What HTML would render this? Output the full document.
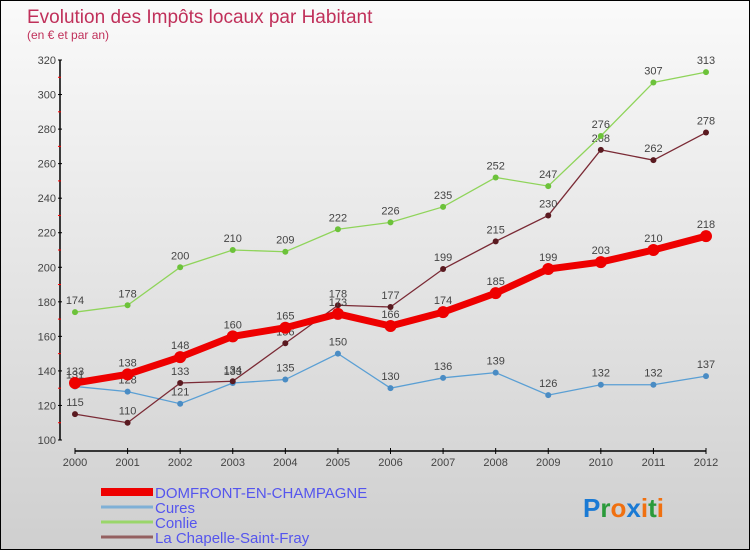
<!DOCTYPE html>
<html><head><meta charset="utf-8"><style>
html,body{margin:0;padding:0}
body{width:750px;height:550px;overflow:hidden;font-family:"Liberation Sans",sans-serif}
#wrap{position:relative;width:748px;height:548px;border:1px solid #000;background:linear-gradient(#fafafa,#cfcfcf)}
</style></head><body>
<div id="wrap">
<svg id="chart" width="748" height="548" xmlns="http://www.w3.org/2000/svg">
<text x="26" y="22" font-size="19" fill="#c0305a">Evolution des Impôts locaux par Habitant</text>
<text x="26" y="38" font-size="12" fill="#c0305a">(en € et par an)</text>
</svg>
</div>
<script>
const years=[2000,2001,2002,2003,2004,2005,2006,2007,2008,2009,2010,2011,2012];
const domfront=[133,138,148,160,165,173,166,174,185,199,203,210,218];
const cures=[131,128,121,133,135,150,130,136,139,126,132,132,137];
const conlie=[174,178,200,210,209,222,226,235,252,247,276,307,313];
const chapelle=[115,110,133,134,156,178,177,199,215,230,268,262,278];
const yTicks=[100,120,140,160,180,200,220,240,260,280,300,320];
const seriesNames=["DOMFRONT-EN-CHAMPAGNE","Cures","Conlie","La Chapelle-Saint-Fray"];
const svg=document.getElementById('chart');
const NS='http://www.w3.org/2000/svg';
const X=i=>74+i*(705-74)/(years.length-1);
const Y=v=>439-(v-100)*(439-59)/220;
function mk(t,a,p){const e=document.createElementNS(NS,t);for(const k in a)e.setAttribute(k,a[k]);(p||svg).appendChild(e);return e;}
// axes
const yax=mk('line',{x1:59,y1:59,x2:59,y2:439,stroke:'#000','stroke-width':1.5});


yTicks.forEach((t,i)=>{
 mk('line',{x1:57,x2:61,y1:Y(t),y2:Y(t),stroke:'#000'});
 if(i<yTicks.length-1) mk('line',{x1:57,x2:60,y1:Y(t+10),y2:Y(t+10),stroke:'#f00'});
 const tx=mk('text',{x:55,y:Y(t)+4,'font-size':11,'text-anchor':'end',fill:'#444'});
 tx.textContent=t;
 
 
});
const xax=mk('line',{x1:74,y1:450,x2:705,y2:450,stroke:'#000','stroke-width':1.5});


years.forEach((yr,i)=>{
 mk('line',{x1:X(i),x2:X(i),y1:447,y2:453,stroke:'#000'});
 const tx=mk('text',{x:X(i),y:465,'font-size':11,'text-anchor':'middle',fill:'#444'});
 tx.textContent=yr;
 
 
});
function series(data,color,dot,w,r,name,labels){
 const g=mk('g',{});
 
 
 mk('polyline',{points:data.map((v,i)=>X(i)+','+Y(v)).join(' '),fill:'none',stroke:color,'stroke-width':w},g);
 data.forEach((v,i)=>{
  const c=mk('circle',{cx:X(i),cy:Y(v),r:r,fill:dot},g);
  
  
  if(labels){const t=mk('text',{x:X(i),y:Y(v)-8,'font-size':11,'text-anchor':'middle',fill:'#444'},g);t.textContent=v;}
 });
}
series(cures,'#5a9fd4','#4a8cc4',1.3,3,'series-cures',true);
series(chapelle,'#7a2a35','#5a1a20',1.3,3,'series-la-chapelle',true);
series(conlie,'#8fd45a','#6cc23a',1.3,3,'series-conlie',true);
series(domfront,'#ee0000','#ee0000',7,6,'series-domfront',true);
// legend
const lc=['#ee0000','#7fb0d6','#9ad66a','#946060'],lw=[8,3,3,3];
seriesNames.forEach((n,i)=>{
 const y=491+i*15;
 const l=mk('line',{x1:100,x2:152,y1:y,y2:y,stroke:lc[i],'stroke-width':lw[i]});
 
 
 const t=mk('text',{x:154,y:y+6,'font-size':15,fill:'#5555ee'});
 t.textContent=n;
 
 
});
const logo=mk('text',{x:582,y:516,'font-size':26,'font-weight':'bold'});


[['P','#1a7ad4'],['r','#2a9a3a'],['o','#f07010'],['x','#1a7ad4'],['i','#f07010'],['t','#2a9a3a'],['i','#f07010']].forEach(([c,f])=>{const s=mk('tspan',{fill:f},logo);s.textContent=c;});
</script>
</body></html>
